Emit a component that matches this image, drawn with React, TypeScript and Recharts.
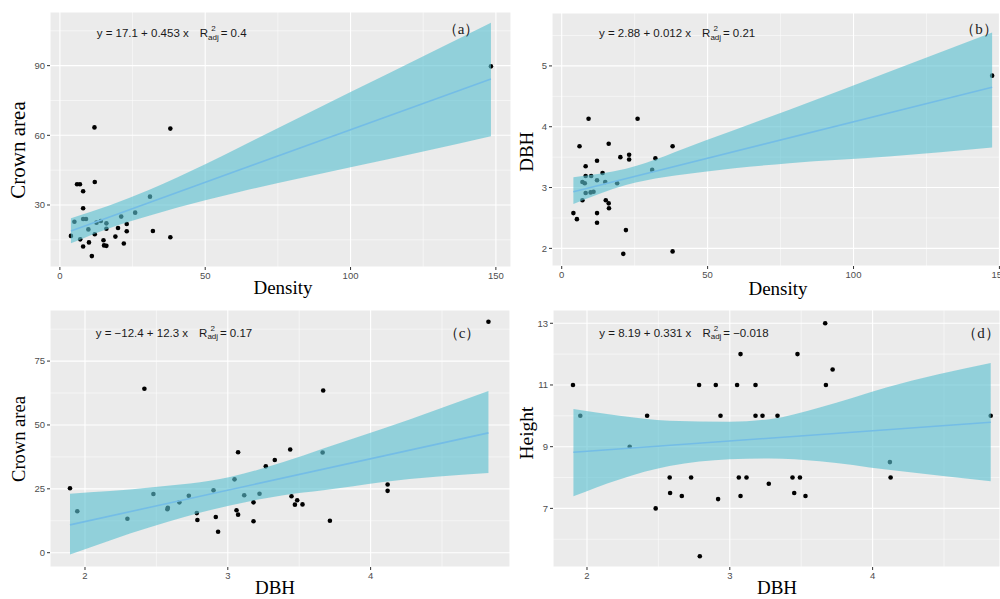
import React from "react";
import {
  Area,
  CartesianGrid,
  ComposedChart,
  Line,
  ReferenceLine,
  Scatter,
  XAxis,
  YAxis,
} from "recharts";

// (a) Density vs Crown area
const densityA = [3.8, 5.0, 5.9, 6.9, 7.0, 8.0, 8.0, 8.0, 8.0, 9.0, 9.8, 10.0, 11.0, 11.9, 12.0, 12.0, 12.6, 14.1, 15.0, 15.2, 16.0, 16.0, 16.0, 19.1, 20.0, 21.1, 22.0, 23.0, 23.0, 25.9, 31.0, 32.0, 38.0, 38.0, 148.3];
const crownA = [16.7, 22.8, 38.9, 38.9, 15.2, 35.9, 28.6, 12.1, 24.0, 24.0, 19.5, 13.9, 8.0, 63.4, 39.9, 17.4, 22.4, 23.1, 14.8, 12.6, 12.4, 19.8, 22.1, 16.4, 20.1, 25.0, 13.4, 21.8, 18.7, 26.7, 33.6, 18.8, 62.9, 16.1, 89.7];
const bandXA = [3.8, 17, 31, 50, 62, 100, 125, 148.3];
const bandLoA = [13.5, 20.0, 25.5, 32.0, 35.7, 46.2, 53.0, 59.6];
const bandHiA = [24.3, 29.8, 36.7, 47.5, 55.0, 78.6, 94.1, 108.5];
const fitXA = [3.8, 148.3];
const fitYA = [18.8, 84.3];

// (b) Density vs DBH
const densityB = [4.0, 5.2, 6.1, 7.1, 7.1, 7.9, 8.2, 8.2, 8.2, 9.2, 9.9, 10.1, 10.9, 12.1, 12.1, 12.1, 12.1, 14.0, 14.9, 15.1, 16.1, 16.1, 16.2, 19.0, 20.1, 21.1, 22.0, 23.1, 23.1, 26.0, 31.0, 32.1, 38.0, 38.0, 147.5];
const dbhB = [2.58, 2.48, 3.68, 2.79, 3.09, 3.07, 3.35, 3.19, 2.91, 4.13, 2.92, 3.19, 2.93, 3.44, 3.12, 2.58, 2.42, 3.24, 3.09, 2.79, 3.72, 2.74, 2.66, 3.07, 3.5, 1.91, 2.3, 3.54, 3.46, 4.13, 3.29, 3.48, 3.68, 1.95, 4.84];
const bandXB = [4, 22, 49, 78, 112, 147.5];
const bandLoB = [2.73, 3.04, 3.26, 3.4, 3.51, 3.66];
const bandHiB = [3.17, 3.31, 3.77, 4.28, 4.9, 5.55];
const fitXB = [4, 147.5];
const fitYB = [2.93, 4.65];

// (c) DBH vs Crown area
const dbhC = [1.895, 1.946, 2.297, 2.416, 2.479, 2.577, 2.58, 2.661, 2.727, 2.783, 2.787, 2.9, 2.916, 2.932, 3.047, 3.072, 3.061, 3.072, 3.115, 3.18, 3.18, 3.222, 3.266, 3.329, 3.437, 3.446, 3.47, 3.486, 3.523, 3.664, 3.668, 3.715, 4.119, 4.119, 4.825];
const crownC = [25.2, 16.2, 13.3, 64.2, 23.0, 17.0, 17.6, 19.7, 22.3, 15.5, 12.8, 24.4, 14.0, 8.2, 28.7, 39.3, 16.6, 14.9, 22.5, 19.7, 12.3, 23.1, 33.8, 36.3, 40.4, 22.1, 18.8, 20.5, 18.9, 39.2, 63.5, 12.5, 26.7, 24.2, 90.4];
const bandXC = [1.895, 2.455, 3.015, 3.389, 3.669, 4.089, 4.825];
const bandLoC = [-0.7, 10.0, 18.5, 22.5, 24.4, 27.7, 31.2];
const bandHiC = [23.1, 25.5, 29.6, 35.5, 40.8, 48.6, 63.3];
const fitXC = [1.895, 4.825];
const fitYC = [10.9, 46.9];

// (d) DBH vs Height
const dbhD = [1.902, 1.953, 2.299, 2.421, 2.481, 2.579, 2.582, 2.664, 2.729, 2.785, 2.79, 2.902, 2.918, 2.935, 3.051, 3.075, 3.063, 3.075, 3.117, 3.18, 3.18, 3.229, 3.273, 3.334, 3.439, 3.451, 3.474, 3.491, 3.53, 3.668, 3.673, 3.72, 4.121, 4.126, 4.827];
const heightD = [11, 10, 9, 10, 7, 8, 7.5, 7.4, 8, 11, 5.45, 11, 7.3, 10, 11, 12, 8, 7.4, 8, 11, 10, 10, 7.8, 10, 8, 7.5, 12, 8, 7.4, 13, 11, 11.5, 8.5, 8, 10];
const bandXD = [1.905, 2.227, 2.577, 2.998, 3.278, 3.629, 4.095, 4.827];
const bandLoD = [7.39, 7.94, 8.37, 8.59, 8.62, 8.53, 8.26, 7.88];
const bandHiD = [10.22, 10.0, 9.84, 9.81, 9.89, 10.27, 10.92, 11.71];
const fitXD = [1.905, 4.827];
const fitYD = [8.82, 9.79];

const SERIF = "'Times New Roman', 'Liberation Serif', serif";
const SANS = "Arial, 'Liberation Sans', sans-serif";

const tickStyle = { fill: "#4D4D4D", fontSize: 9.5, fontFamily: SANS };

const dot = (props: any) => (
  <circle cx={props.cx} cy={props.cy} r={2.3} fill="#000000" />
);

function Panel(p: any) {
  const points = p.xs.map((x: number, i: number) => ({ x, y: p.ys[i] }));
  const band = p.bandX.map((x: number, i: number) => ({
    x,
    band: [p.lo[i], p.hi[i]],
  }));
  const fit = p.fitX.map((x: number, i: number) => ({ x, fit: p.fitY[i] }));

  const xTitle = () => (
    <text
      x={p.xTitle[0]}
      y={p.xTitle[1]}
      textAnchor="middle"
      fontFamily={SERIF}
      fontSize={19}
      fill="#000"
    >
      {p.xLabel}
    </text>
  );
  const yTitle = () => (
    <text
      x={p.yTitle[0]}
      y={p.yTitle[1]}
      transform={`rotate(-90 ${p.yTitle[0]} ${p.yTitle[1]})`}
      textAnchor="middle"
      dominantBaseline="central"
      fontFamily={SERIF}
      fontSize={p.yTitle[2]}
      fill="#000"
    >
      {p.yLabel}
    </text>
  );

  return (
    <div style={{ position: "absolute", left: p.left, top: p.top, width: p.width, height: p.height }}>
      {/* bottom layer: panel, grid, axes, points */}
      <ComposedChart
        width={p.width}
        height={p.height}
        margin={{ top: p.mt, right: p.mr, bottom: 0, left: 0 }}
      >
        <CartesianGrid fill="#EBEBEB" stroke="#FFFFFF" strokeWidth={1.1} />
        {p.minorX.map((v: number) => (
          <ReferenceLine key={"mx" + v} x={v} stroke="#FFFFFF" strokeWidth={0.5} />
        ))}
        {p.minorY.map((v: number) => (
          <ReferenceLine key={"my" + v} y={v} stroke="#FFFFFF" strokeWidth={0.5} />
        ))}
        <XAxis
          type="number"
          dataKey="x"
          domain={p.xDomain}
          ticks={p.xTicks}
          interval={0}
          allowDataOverflow
          axisLine={false}
          tickLine={{ stroke: "#333333" }}
          tickSize={3}
          tickMargin={2}
          tick={tickStyle}
          height={p.xh}
          label={xTitle}
        />
        <YAxis
          type="number"
          domain={p.yDomain}
          ticks={p.yTicks}
          interval={0}
          allowDataOverflow
          axisLine={false}
          tickLine={{ stroke: "#333333" }}
          tickSize={3}
          tickMargin={2}
          tick={tickStyle}
          width={p.yw}
          label={yTitle}
        />
        <Scatter data={points} dataKey="y" shape={dot} isAnimationActive={false} />
      </ComposedChart>
      {/* top layer: confidence band and fitted line, drawn over the points like geom_smooth */}
      <div style={{ position: "absolute", left: 0, top: 0 }}>
        <ComposedChart
          width={p.width}
          height={p.height}
          margin={{ top: p.mt, right: p.mr, bottom: p.xh, left: p.yw }}
        >
          <XAxis type="number" dataKey="x" domain={p.xDomain} allowDataOverflow hide />
          <YAxis type="number" domain={p.yDomain} allowDataOverflow hide />
          <Area
            data={band}
            dataKey="band"
            type="monotone"
            fill="#5BC0D0"
            fillOpacity={0.62}
            stroke="none"
            activeDot={false}
            isAnimationActive={false}
          />
          <Line
            data={fit}
            dataKey="fit"
            type="linear"
            stroke="#74BDE6"
            strokeWidth={1.6}
            dot={false}
            activeDot={false}
            isAnimationActive={false}
          />
        </ComposedChart>
      </div>
    </div>
  );
}

function Eq({ x, y, lhs, r2 }: { x: number; y: number; lhs: string; r2: string }) {
  return (
    <text x={x} y={y} fontFamily={SANS} fontSize={11.5} fill="#1A1A1A">
      <tspan>{lhs}</tspan>
      <tspan dx={11}>R</tspan>
      <tspan dy={2.5} fontSize={8}>adj</tspan>
      <tspan dx={-7.6} dy={-8.5} fontSize={8}>2</tspan>
      <tspan dx={5} dy={6}>{"= " + r2}</tspan>
    </text>
  );
}

function Tag({ x, y, t }: { x: number; y: number; t: string }) {
  return (
    <text x={x} y={y} textAnchor="middle" fontFamily={SERIF} fontSize={15} fill="#1A1A1A">
      {"（" + t + "）"}
    </text>
  );
}

export default function App() {
  return (
    <div style={{ position: "absolute", left: 0, top: 0, width: 1000, height: 599, background: "#FFFFFF" }}>
      <Panel
        left={0} top={0} width={515} height={300} mt={12} mr={4} yw={50} xh={33}
        xs={densityA} ys={crownA} bandX={bandXA} lo={bandLoA} hi={bandHiA} fitX={fitXA} fitY={fitYA}
        xDomain={[-3.4, 155.2]} yDomain={[3.3, 113.1]}
        xTicks={[0, 50, 100, 150]} yTicks={[30, 60, 90]}
        minorX={[25, 75, 125]} minorY={[15, 45, 75, 105]}
        xLabel="Density" yLabel="Crown area"
        xTitle={[283, 294]} yTitle={[18.3, 150, 21]}
      />
      <Panel
        left={500} top={0} width={500} height={300} mt={13} mr={0} yw={52} xh={34}
        xs={densityB} ys={dbhB} bandX={bandXB} lo={bandLoB} hi={bandHiB} fitX={fitXB} fitY={fitYB}
        xDomain={[-3.33, 150.2]} yDomain={[1.71, 5.87]}
        xTicks={[0, 50, 100, 150]} yTicks={[2, 3, 4, 5]}
        minorX={[25, 75, 125]} minorY={[2.5, 3.5, 4.5, 5.5]}
        xLabel="Density" yLabel="DBH"
        xTitle={[278, 295]} yTitle={[26.7, 151.7, 19]}
      />
      <Panel
        left={0} top={300} width={515} height={299} mt={10} mr={5} yw={50} xh={32}
        xs={dbhC} ys={crownC} bandX={bandXC} lo={bandLoC} hi={bandHiC} fitX={fitXC} fitY={fitYC}
        xDomain={[1.755, 4.976]} yDomain={[-5.6, 95.0]}
        xTicks={[2, 3, 4]} yTicks={[0, 25, 50, 75]}
        minorX={[2.5, 3.5, 4.5]} minorY={[12.5, 37.5, 62.5, 87.5]}
        xLabel="DBH" yLabel="Crown area"
        xTitle={[275, 294]} yTitle={[18.8, 139, 18.5]}
      />
      <Panel
        left={500} top={300} width={500} height={299} mt={10} mr={0} yw={53} xh={32}
        xs={dbhD} ys={heightD} bandX={bandXD} lo={bandLoD} hi={bandHiD} fitX={fitXD} fitY={fitYD}
        xDomain={[1.762, 4.892]} yDomain={[5.1, 13.43]}
        xTicks={[2, 3, 4]} yTicks={[7, 9, 11, 13]}
        minorX={[2.5, 3.5, 4.5]} minorY={[6, 8, 10, 12]}
        xLabel="DBH" yLabel="Height"
        xTitle={[277, 294]} yTitle={[26.5, 133, 19.5]}
      />
      <svg
        width={1000}
        height={599}
        style={{ position: "absolute", left: 0, top: 0, pointerEvents: "none" }}
      >
        <Eq x={96.7} y={37} lhs="y = 17.1 + 0.453 x" r2="0.4" />
        <Eq x={599} y={37} lhs="y = 2.88 + 0.012 x" r2="0.21" />
        <Eq x={95.7} y={336.5} lhs="y = −12.4 + 12.3 x" r2="0.17" />
        <Eq x={599.3} y={336.5} lhs="y = 8.19 + 0.331 x" r2="−0.018" />
        <Tag x={461} y={34} t="a" />
        <Tag x={979} y={34} t="b" />
        <Tag x={462} y={338} t="c" />
        <Tag x={981} y={338} t="d" />
      </svg>
    </div>
  );
}
